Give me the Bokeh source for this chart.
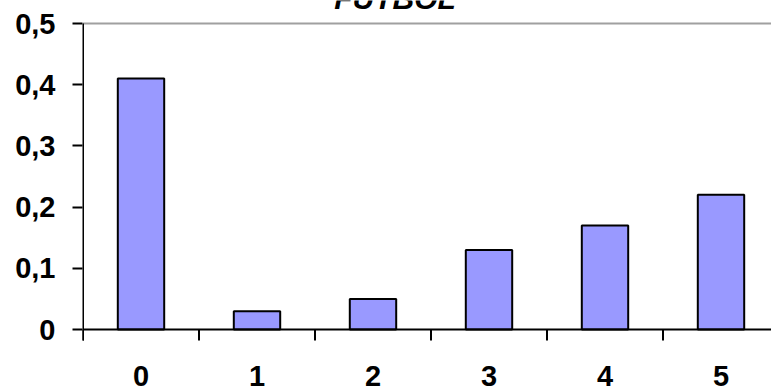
from bokeh.plotting import figure
from bokeh.models import Range1d, FixedTicker
from bokeh.core.properties import value
from bokeh.embed import file_html
from bokeh.resources import INLINE

# Data
categories = ["0", "1", "2", "3", "4", "5"]
values = [0.41, 0.03, 0.05, 0.13, 0.17, 0.22]
y_ticks = [0, 0.1, 0.2, 0.3, 0.4, 0.5]
y_tick_labels = ["0", "0,1", "0,2", "0,3", "0,4", "0,5"]
title_text = "FUTBOL"

xs = list(range(len(categories)))
bounds = [x - 0.5 for x in xs]
n = len(xs)
FONT = "Liberation Sans"

PX = 0.5 / 306.0            # data units per pixel on the y scale
XPX = 1 / 116.0             # data units per pixel on the x scale
TICK = 11 * PX              # x tick length below the axis
LABEL_Y = -46 * PX          # centre of category labels below the axis
TITLE_Y = 0.5 + 25 * PX     # title position above the plot area

x_start = -0.5 - 0.5 * XPX
p = figure(width=771, height=389,
           x_range=Range1d(x_start, x_start + 689 * XPX),
           y_range=Range1d(-60 * PX, 329 * PX),
           output_backend="svg", toolbar_location=None,
           min_border_left=82, min_border_right=0,
           min_border_top=0, min_border_bottom=0)
p.background_fill_color = "white"
p.border_fill_color = "white"
p.outline_line_color = None
p.xgrid.visible = False
p.ygrid.visible = False
p.xaxis.visible = False

# top border line of plot area
p.segment(x0=[-0.5], y0=[0.5], x1=[10], y1=[0.5], line_color="#A0A0A0", line_width=2)

p.vbar(x=xs, top=values, width=0.4, fill_color="#9999FF",
       line_color="black", line_width=2)

# axis lines and x tick marks at category boundaries
p.segment(x0=[-0.5], y0=[-TICK], x1=[-0.5], y1=[0.5], line_color="black", line_width=2)
p.segment(x0=[-0.5], y0=[0], x1=[10], y1=[0], line_color="black", line_width=2)
p.segment(x0=bounds, y0=[0] * n, x1=bounds, y1=[-TICK] * n,
          line_color="black", line_width=2)

# y axis (ticks and labels)
ya = p.yaxis[0]
ya.ticker = FixedTicker(ticks=y_ticks)
ya.major_label_overrides = {t: l for t, l in zip(y_ticks, y_tick_labels)}
ya.axis_line_color = None
ya.major_tick_line_color = "black"
ya.major_tick_line_width = 2
ya.major_tick_out = 10
ya.major_tick_in = 0
ya.minor_tick_line_color = None
ya.major_label_standoff = 17
ya.major_label_text_font = FONT
ya.major_label_text_font_style = "bold"
ya.major_label_text_font_size = "29px"
ya.major_label_text_color = "black"

# category labels
p.text(x=xs, y=[LABEL_Y] * n, text=categories,
       text_align="center", text_baseline="middle",
       text_font=value(FONT), text_font_style="bold",
       text_font_size="29px", text_color="black")

# title (partly cut at the top, as in the reference)
p.text(x=[2.19], y=[TITLE_Y], text=[title_text],
       text_align="center", text_baseline="alphabetic",
       text_font=value(FONT), text_font_style="bold italic",
       text_font_size="30px", text_color="black")

open("out.html", "w").write(file_html(p, INLINE))
